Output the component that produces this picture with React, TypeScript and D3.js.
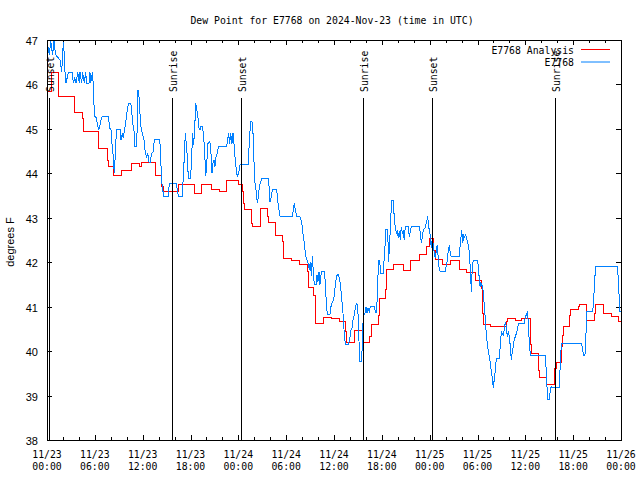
import React from "react";
import * as d3 from "d3";

// hours after 2024-11-23 00:00 UTC, dew point (°F)
const analysisSeries: [number, number][] = [
  [0, 45.84], [0.59, 46.27], [1.42, 45.73], [3.51, 45.37], [4.47, 45.24], [4.6, 44.94], [6.52, 44.56],
  [7.53, 44.3], [7.69, 44.15], [8.32, 43.96], [9.36, 44.07], [10.62, 44.22], [11.66, 44.16], [11.87, 44.24],
  [13.55, 43.96], [14.38, 43.7], [14.59, 43.6], [16.47, 43.75], [18.56, 43.55], [19.4, 43.74], [20.65, 43.64],
  [21.61, 43.59], [22.53, 43.85], [24.0, 43.74], [24.54, 43.59], [24.63, 43.33], [24.75, 43.19], [25.67, 42.88],
  [25.8, 42.8], [26.72, 43.06], [26.8, 43.21], [27.68, 43.03], [27.76, 42.89], [28.72, 42.61], [29.56, 42.46],
  [29.64, 42.09], [30.69, 42.05], [31.73, 41.96], [32.65, 41.79], [32.78, 41.43], [33.41, 41.26], [33.62, 40.81],
  [33.74, 40.62], [34.66, 40.76], [35.71, 40.74], [36.67, 40.66], [37.5, 40.44], [37.59, 40.19], [38.63, 40.47],
  [39.59, 40.29], [39.68, 40.19], [40.51, 40.32], [40.72, 40.6], [41.56, 40.81], [41.68, 41.19], [42.48, 41.38],
  [42.6, 41.83], [43.52, 41.94], [44.69, 41.81], [45.61, 42.05], [46.7, 42.18], [47.62, 42.35], [47.96, 42.54],
  [48.46, 42.27], [48.67, 42.07], [49.63, 41.96], [50.64, 42.05], [51.72, 41.83], [52.64, 41.76], [53.69, 41.58],
  [54.52, 41.41], [54.65, 40.85], [54.73, 40.6], [55.65, 40.56], [57.58, 40.66], [57.74, 40.74], [58.79, 40.68],
  [59.54, 40.74], [60.59, 40.16], [60.8, 39.95], [61.63, 39.56], [61.76, 39.41], [62.68, 39.26], [63.68, 39.61],
  [63.85, 39.74], [64.56, 40.1], [64.68, 40.36], [64.77, 40.55], [65.52, 40.64], [65.6, 40.81], [65.69, 40.94],
  [66.65, 41.0], [66.77, 41.05], [67.61, 40.77], [67.69, 40.68], [68.65, 40.85], [68.86, 41.05], [69.78, 40.85],
  [70.83, 40.77], [71.66, 40.66], [72, 40.66],
];

const stationSeries: [number, number][] = [
  [0, 46.98], [0.29, 46.66], [0.46, 46.98], [0.71, 46.66], [0.88, 46.98], [1.0, 46.78], [1.13, 46.66],
  [1.63, 46.55], [1.76, 46.4], [1.84, 46.27], [2.05, 46.96], [2.17, 46.66], [2.26, 46.27], [2.38, 46.03],
  [2.68, 46.27], [3.18, 46.27], [3.3, 46.03], [3.47, 46.14], [3.64, 46.03], [3.85, 46.27], [4.06, 46.03],
  [4.14, 46.27], [4.35, 46.03], [4.47, 46.27], [4.68, 46.03], [4.85, 46.27], [4.97, 46.03], [5.27, 46.03],
  [5.39, 46.27], [5.48, 46.03], [5.69, 46.27], [5.81, 45.99], [5.89, 45.54], [6.02, 45.28], [6.23, 45.24],
  [6.31, 45.09], [6.52, 44.99], [6.65, 45.09], [6.77, 45.2], [6.94, 45.29], [7.7, 45.29], [7.78, 45.16],
  [7.9, 45.01], [8.03, 44.97], [8.11, 44.75], [8.32, 44.37], [8.44, 44.0], [8.57, 44.41], [8.65, 44.75],
  [8.74, 44.99], [9.2, 44.99], [9.28, 44.75], [9.45, 44.9], [9.57, 44.79], [9.7, 44.97], [9.87, 45.13],
  [9.99, 45.31], [10.12, 45.5], [10.28, 45.58], [10.5, 45.58], [10.62, 45.43], [10.74, 45.13], [10.91, 44.97],
  [11.04, 44.6], [11.25, 44.6], [11.33, 45.2], [11.41, 45.87], [11.54, 45.72], [11.66, 45.35], [11.79, 45.05],
  [11.96, 44.9], [12.17, 44.75], [12.33, 44.45], [12.5, 44.37], [12.63, 44.45], [12.79, 44.26], [12.92, 44.23],
  [13.13, 44.45], [13.34, 44.49], [13.46, 44.76], [14.15, 44.76], [14.26, 44.37], [14.38, 43.78], [14.51, 43.7],
  [14.59, 43.49], [15.22, 43.49], [15.34, 43.78], [16.22, 43.78], [16.35, 43.63], [16.47, 43.49], [16.97, 43.49],
  [17.1, 43.93], [17.22, 44.37], [17.35, 44.9], [17.47, 44.67], [17.6, 44.37], [17.73, 43.89], [18.02, 43.89],
  [18.14, 44.37], [18.27, 44.9], [18.39, 44.64], [18.52, 44.97], [18.65, 45.59], [18.77, 45.43], [18.9, 45.35],
  [19.02, 45.05], [19.19, 44.97], [19.31, 45.05], [19.52, 45.05], [19.65, 44.82], [19.77, 44.52], [19.9, 43.93],
  [20.03, 44.15], [20.15, 44.67], [20.44, 44.71], [20.57, 44.45], [20.69, 44.0], [20.82, 44.23], [20.95, 44.3],
  [21.07, 44.15], [21.2, 44.37], [21.36, 44.45], [21.49, 44.6], [22.53, 44.6], [22.66, 44.75], [22.78, 44.9],
  [22.91, 44.67], [23.04, 44.9], [23.2, 44.67], [23.33, 44.9], [23.45, 44.67], [23.58, 44.37], [23.7, 44.15],
  [23.87, 43.93], [24.04, 44.0], [24.21, 44.19], [25.25, 44.19], [25.38, 44.75], [25.55, 45.16], [25.71, 45.16],
  [25.88, 44.82], [25.97, 44.22], [26.09, 43.78], [26.22, 43.63], [26.38, 43.33], [26.51, 43.48], [26.63, 43.7],
  [26.8, 43.81], [26.97, 43.89], [27.76, 43.89], [27.89, 43.63], [27.97, 43.36], [28.1, 43.44], [28.18, 43.55],
  [28.31, 43.63], [28.81, 43.63], [28.93, 43.4], [29.1, 43.18], [29.23, 43.03], [30.77, 43.03], [30.9, 43.18],
  [31.02, 43.33], [31.15, 43.18], [31.32, 43.03], [31.73, 43.03], [31.86, 42.95], [32.03, 42.8], [32.15, 42.57],
  [32.28, 42.42], [32.4, 42.2], [32.53, 42.09], [32.78, 41.97], [32.91, 41.83], [33.03, 42.01], [33.16, 41.68],
  [33.28, 42.13], [33.41, 41.79], [33.53, 41.49], [33.74, 41.49], [33.87, 41.71], [33.99, 41.56], [34.12, 41.79],
  [34.24, 41.49], [34.37, 41.71], [34.49, 41.79], [34.79, 41.79], [34.91, 41.56], [35.04, 41.04], [35.16, 40.83],
  [35.5, 40.83], [35.62, 41.0], [35.79, 41.11], [35.91, 41.13], [36.04, 41.26], [36.17, 41.49], [36.29, 41.64],
  [36.42, 41.73], [36.55, 41.73], [36.67, 41.64], [36.84, 41.45], [36.96, 41.15], [37.09, 41.0], [37.17, 40.7],
  [37.29, 40.4], [37.42, 40.16], [37.84, 40.16], [38.01, 40.32], [38.13, 40.47], [38.26, 40.51], [38.38, 40.7],
  [38.51, 40.78], [38.63, 40.93], [38.76, 41.04], [38.88, 41.08], [39.01, 40.85], [39.13, 40.25], [39.22, 39.76],
  [39.47, 39.76], [39.59, 40.44], [39.68, 40.78], [39.89, 40.85], [40.01, 41.0], [40.14, 40.85], [40.26, 40.96],
  [40.43, 40.89], [40.56, 41.01], [41.02, 41.01], [41.14, 40.93], [41.27, 40.85], [41.39, 41.08], [41.52, 41.71],
  [41.64, 42.05], [41.77, 41.94], [41.89, 41.75], [42.19, 41.75], [42.31, 42.16], [42.44, 42.46], [42.52, 42.73],
  [42.73, 42.73], [42.85, 42.01], [42.98, 42.43], [43.11, 42.95], [43.23, 43.4], [43.44, 43.4], [43.57, 42.95],
  [43.69, 42.8], [43.82, 42.65], [43.94, 42.69], [44.07, 42.54], [44.19, 42.69], [44.32, 42.5], [44.44, 42.8],
  [44.57, 42.65], [44.69, 42.69], [44.82, 42.5], [44.94, 42.8], [45.32, 42.8], [45.45, 42.57], [45.57, 42.69],
  [45.7, 42.8], [46.7, 42.8], [46.83, 42.65], [46.95, 42.43], [47.08, 42.57], [47.2, 42.73], [47.41, 42.76],
  [47.62, 42.91], [47.75, 43.03], [47.87, 42.8], [48.04, 42.65], [48.09, 42.57], [48.21, 42.31], [48.34, 42.57],
  [48.46, 42.35], [48.59, 42.2], [48.71, 42.09], [48.84, 42.27], [48.96, 42.39], [49.09, 42.05], [49.21, 41.83],
  [49.38, 41.79], [49.93, 41.79], [50.05, 41.9], [50.22, 42.05], [50.34, 42.27], [50.47, 42.39], [50.59, 42.2],
  [50.72, 42.12], [51.72, 42.12], [51.81, 42.35], [51.93, 42.57], [52.02, 42.73], [52.14, 42.43], [52.27, 42.61],
  [52.39, 42.57], [52.52, 42.61], [52.64, 42.54], [52.77, 42.43], [52.89, 42.39], [53.02, 42.09], [53.14, 41.68],
  [53.23, 41.34], [53.35, 41.9], [53.48, 42.05], [53.98, 42.05], [54.11, 41.9], [54.23, 41.6], [54.32, 41.45],
  [54.4, 41.56], [54.52, 41.49], [54.65, 41.45], [54.77, 41.22], [54.9, 40.93], [55.03, 40.55], [55.15, 40.29],
  [55.28, 40.1], [55.4, 39.95], [55.53, 39.84], [55.65, 39.65], [55.78, 39.5], [55.9, 39.31], [55.99, 39.16],
  [56.11, 39.39], [56.24, 39.57], [56.36, 39.84], [56.74, 39.84], [56.87, 40.17], [56.99, 40.44], [57.12, 40.4],
  [57.24, 40.36], [57.37, 40.51], [57.49, 40.66], [57.62, 40.55], [57.74, 40.32], [57.87, 40.44], [57.99, 40.32],
  [58.12, 40.1], [58.24, 39.8], [58.37, 39.99], [58.5, 40.1], [58.62, 40.29], [58.75, 40.32], [58.87, 40.4],
  [59.0, 40.47], [59.12, 40.62], [59.88, 40.62], [60.0, 40.78], [60.13, 40.81], [60.25, 40.89], [60.38, 40.62],
  [60.5, 40.17], [60.63, 39.91], [62.47, 39.91], [62.59, 39.65], [62.72, 39.2], [62.84, 38.91], [62.97, 38.91],
  [63.09, 39.05], [63.22, 39.2], [63.35, 39.18], [64.26, 39.18], [64.39, 39.73], [64.52, 40.17], [67.07, 40.17],
  [67.19, 40.02], [67.32, 39.91], [67.48, 39.91], [67.61, 40.4], [67.73, 40.89], [68.45, 40.89], [68.57, 41.15],
  [68.7, 41.6], [68.82, 41.9], [71.54, 41.9], [71.66, 41.64], [71.79, 41.15], [71.87, 40.89], [72, 40.89],
];

const sunEventHours = [0.29, 15.64, 24.29, 39.68, 48.33, 63.77];
const sunEventLabels = ["Sunset", "Sunrise", "Sunset", "Sunrise", "Sunset", "Sunrise"];
const yTickValues = [38, 39, 40, 41, 42, 43, 44, 45, 46, 47];
const seriesNames = ["E7768 Analysis", "E7768"];
const seriesColors = ["#ff0000", "#0080ff"];
const titleText = "Dew Point for E7768 on 2024-Nov-23 (time in UTC)";
const yAxisTitle = "degrees F";

const T0 = Date.UTC(2024, 10, 23);
const toDate = (h: number) => new Date(T0 + h * 3600 * 1000);

const W = 640, H = 480;
const L = 47, R = 621, T = 40, B = 440;
const MONO = "'DejaVu Sans Mono', 'Liberation Mono', monospace";
const SANS = "'Liberation Sans', Arial, sans-serif";

export default function App() {
  const x = d3.scaleUtc().domain([toDate(0), toDate(72)]).range([L, R]);
  const y = d3.scaleLinear().domain([38, 47]).range([B, T]);
  const major = x.ticks(d3.utcHour.every(6) as any);
  const minor = x.ticks(d3.utcHour.every(2) as any);
  const fmtDay = d3.utcFormat("%m/%d");
  const fmtHour = d3.utcFormat("%H:%M");

  const redLine = d3.line<[number, number]>()
    .x((d) => x(toDate(d[0])))
    .y((d) => y(d[1]))
    .curve(d3.curveStepAfter);
  const blueLine = d3.line<[number, number]>()
    .x((d) => x(toDate(d[0])))
    .y((d) => y(d[1]));

  return (
    <svg width={W} height={H} style={{ position: "absolute", left: 0, top: 0, background: "#fff" }}>
      <rect x={0} y={0} width={W} height={H} fill="#fff" />
      <text x={332} y={24} textAnchor="middle" fontFamily={MONO} fontSize={9.8} fill="#000">{titleText}</text>

      {minor.map((d, i) => {
        const px = Math.round(x(d)) + 0.5;
        return (
          <g key={"mi" + i}>
            <line x1={px} x2={px} y1={B} y2={B - 3} stroke="#000" />
            <line x1={px} x2={px} y1={T} y2={T + 3} stroke="#000" />
          </g>
        );
      })}
      {major.map((d, i) => {
        const px = Math.round(x(d)) + 0.5;
        return (
          <g key={"ma" + i}>
            <line x1={px} x2={px} y1={B} y2={B - 5} stroke="#000" />
            <line x1={px} x2={px} y1={T} y2={T + 5} stroke="#000" />
            <text x={x(d)} y={458} textAnchor="middle" fontFamily={MONO} fontSize={9.8} fill="#000">{fmtDay(d)}</text>
            <text x={x(d)} y={470} textAnchor="middle" fontFamily={MONO} fontSize={9.8} fill="#000">{fmtHour(d)}</text>
          </g>
        );
      })}
      {yTickValues.map((v) => {
        const py = Math.round(y(v)) + 0.5;
        return (
          <g key={"y" + v}>
            <line x1={L} x2={L + 5} y1={py} y2={py} stroke="#000" />
            <line x1={R} x2={R - 5} y1={py} y2={py} stroke="#000" />
            <text x={38} y={py + 4} textAnchor="end" fontFamily={SANS} fontSize={11} fill="#000">{v}</text>
          </g>
        );
      })}
      <text transform={`translate(14,242) rotate(-90)`} textAnchor="middle" fontFamily={SANS} fontSize={11} fill="#000">{yAxisTitle}</text>

      <path d={redLine(analysisSeries) || ""} fill="none" stroke={seriesColors[0]} strokeWidth={1} shapeRendering="crispEdges" />
      <path d={blueLine(stationSeries) || ""} fill="none" stroke={seriesColors[1]} strokeWidth={1} shapeRendering="crispEdges" />

      {sunEventHours.map((h, i) => {
        const px = Math.round(x(toDate(h))) + 0.5;
        return (
          <g key={"s" + i}>
            <line x1={px} x2={px} y1={98} y2={B} stroke="#000" />
            <text transform={`translate(${px + 4},92) rotate(-90)`} textAnchor="start" fontFamily={MONO} fontSize={9.8} fill="#000">{sunEventLabels[i]}</text>
          </g>
        );
      })}

      <rect x={L + 0.5} y={T + 0.5} width={R - L} height={B - T} fill="none" stroke="#000" />

      {seriesNames.map((n, i) => (
        <g key={"l" + i}>
          <text x={574} y={53.5 + i * 12.5} textAnchor="end" fontFamily={MONO} fontSize={9.8} fill="#000">{n}</text>
          <line x1={581} x2={610} y1={49.5 + i * 12.5} y2={49.5 + i * 12.5} stroke={seriesColors[i]} />
        </g>
      ))}
    </svg>
  );
}
